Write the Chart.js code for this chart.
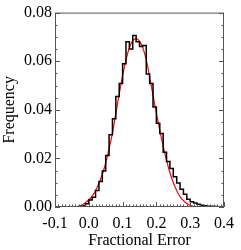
<!DOCTYPE html>
<html>
<head>
<meta charset="utf-8">
<script src="https://cdn.jsdelivr.net/npm/chart.js@4.4.1/dist/chart.umd.min.js"></script>
<style>
  html, body { margin: 0; padding: 0; background: #fff; }
  canvas { display: block; }
</style>
</head>
<body>
<canvas id="histChart" width="241" height="250"></canvas>
<script>
// histogram bins (left edge) and frequencies, bin width 0.01
const binStarts = [-0.03, -0.02, -0.01, 0.00, 0.01, 0.02, 0.03, 0.04, 0.05, 0.06,
  0.07, 0.08, 0.09, 0.10, 0.11, 0.12, 0.13, 0.14, 0.15, 0.16,
  0.17, 0.18, 0.19, 0.20, 0.21, 0.22, 0.23, 0.24, 0.25, 0.26,
  0.27, 0.28, 0.29, 0.30, 0.31, 0.32, 0.33, 0.34, 0.35, 0.36,
  0.37, 0.38, 0.39];
const freq = [0.0002, 0.0005, 0.0013, 0.0029, 0.0040, 0.0068, 0.0105, 0.0148, 0.0212, 0.0297,
  0.0363, 0.0455, 0.0508, 0.0590, 0.0680, 0.0650, 0.0706, 0.0680, 0.0660, 0.0665,
  0.0547, 0.0508, 0.0412, 0.0345, 0.0302, 0.0225, 0.0187, 0.0158, 0.0125, 0.0099,
  0.0073, 0.0052, 0.0032, 0.0022, 0.0016, 0.0011, 0.0007, 0.0005, 0.0003, 0.0003,
  0.0002, 0.0001, 0.0001];
const binWidth = 0.01;

// fitted curve (red)
const fitX = [-0.035, -0.02, -0.01, 0.00, 0.01, 0.02, 0.03, 0.04, 0.05, 0.06,
  0.07, 0.08, 0.09, 0.10, 0.11, 0.12, 0.13, 0.14, 0.15, 0.16,
  0.17, 0.18, 0.19, 0.20, 0.21, 0.22, 0.23, 0.24, 0.25, 0.26,
  0.27, 0.28, 0.29, 0.30, 0.31, 0.32, 0.33, 0.40];
const fitY = [0.0000, 0.0008, 0.0018, 0.0030, 0.0045, 0.0068, 0.0098, 0.0135, 0.0180, 0.0240,
  0.0305, 0.0385, 0.0465, 0.0540, 0.0605, 0.0655, 0.0685, 0.0693, 0.0683, 0.0655,
  0.0605, 0.0535, 0.0460, 0.0385, 0.0315, 0.0250, 0.0192, 0.0142, 0.0100, 0.0068,
  0.0043, 0.0026, 0.0014, 0.0007, 0.0003, 0.0001, 0.0000, 0.0000];

const xTicks = [-0.1, 0.0, 0.1, 0.2, 0.3, 0.4];
const yTicks = [0.00, 0.02, 0.04, 0.06, 0.08];

const histPoints = [{ x: binStarts[0], y: 0 }];
binStarts.forEach((b, i) => histPoints.push({ x: b, y: freq[i] }));
histPoints.push({ x: binStarts[binStarts.length - 1] + binWidth, y: freq[freq.length - 1] });

const fitPoints = fitX.map((x, i) => ({ x: x, y: fitY[i] }));

const serif = "'Liberation Serif', 'Times New Roman', serif";

// frame + inward ticks like the original plot
const frameTicks = {
  id: "frameTicks",
  afterDraw(chart) {
    const { ctx, chartArea: a, scales } = chart;
    const xs = scales.x, ys = scales.y;
    ctx.save();
    ctx.strokeStyle = "#555";
    ctx.lineWidth = 1;
    ctx.strokeRect(a.left + 0.5, a.top + 0.5, a.right - a.left - 1, a.bottom - a.top - 1);
    ctx.beginPath();
    for (let i = -10; i <= 40; i++) {
      const v = i / 100;
      const px = Math.round(xs.getPixelForValue(v)) + 0.5;
      const len = i % 10 === 0 ? 5 : 2.5;
      ctx.moveTo(px, a.bottom);
      ctx.lineTo(px, a.bottom - len);
    }
    for (let j = 0; j <= 16; j++) {
      const v = j * 0.005;
      const py = Math.round(ys.getPixelForValue(v)) + 0.5;
      const len = j % 4 === 0 ? 5 : 2.5;
      ctx.moveTo(a.left, py);
      ctx.lineTo(a.left + len, py);
      ctx.moveTo(a.right, py);
      ctx.lineTo(a.right - len, py);
    }
    ctx.stroke();
    ctx.restore();
  }
};

new Chart(document.getElementById("histChart"), {
  type: "line",
  data: {
    datasets: [
      {
        label: "histogram",
        data: histPoints,
        stepped: "before",
        borderColor: "#000",
        borderWidth: 1.5,
        pointRadius: 0,
        fill: false
      },
      {
        label: "fit",
        data: fitPoints,
        borderColor: "#ff0000",
        borderWidth: 1.2,
        tension: 0.4,
        cubicInterpolationMode: "monotone",
        pointRadius: 0,
        fill: false
      }
    ]
  },
  options: {
    responsive: false,
    animation: false,
    layout: { padding: { top: 4, right: 9, left: 0, bottom: 0 } },
    plugins: { legend: { display: false }, tooltip: { enabled: false } },
    scales: {
      x: {
        type: "linear",
        min: -0.1,
        max: 0.4,
        afterBuildTicks: (s) => { s.ticks = xTicks.map(v => ({ value: v })); },
        afterFit: (s) => { s.height = 43; },
        grid: { display: false, drawTicks: false },
        border: { display: false },
        ticks: {
          color: "#000",
          padding: 7,
          maxRotation: 0,
          font: { family: serif, size: 16 },
          callback: (v) => v.toFixed(1)
        },
        title: {
          display: true,
          text: "Fractional Error",
          color: "#000",
          padding: { top: 0, bottom: 0 },
          font: { family: serif, size: 16 }
        }
      },
      y: {
        type: "linear",
        min: 0,
        max: 0.08,
        afterBuildTicks: (s) => { s.ticks = yTicks.map(v => ({ value: v })); },
        afterFit: (s) => { s.width = 55; },
        grid: { display: false, drawTicks: false },
        border: { display: false },
        ticks: {
          color: "#000",
          padding: 3,
          font: { family: serif, size: 16 },
          callback: (v) => v.toFixed(2)
        },
        title: {
          display: true,
          text: "Frequency",
          color: "#000",
          padding: { top: 0, bottom: 0 },
          font: { family: serif, size: 16 }
        }
      }
    }
  },
  plugins: [frameTicks]
});
</script>
</body>
</html>
